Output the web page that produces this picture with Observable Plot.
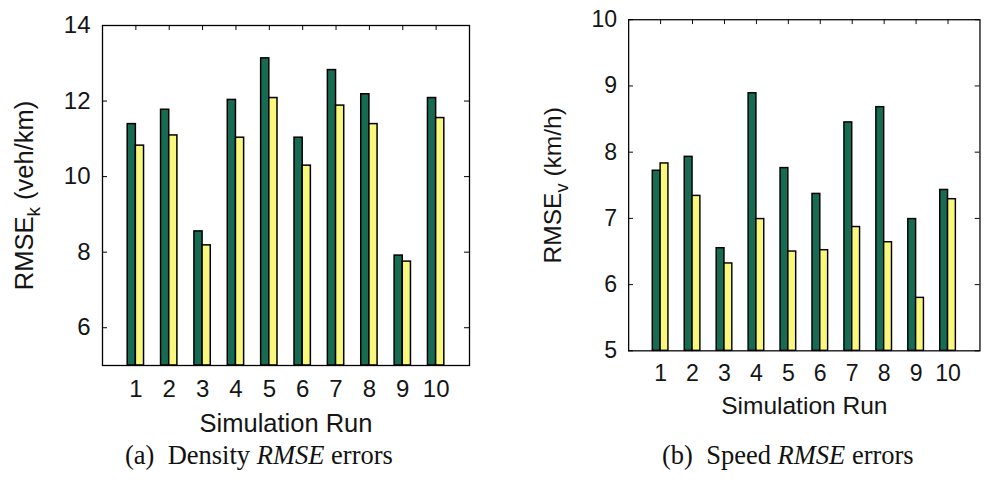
<!DOCTYPE html>
<html><head><meta charset="utf-8">
<script src="https://cdn.jsdelivr.net/npm/d3@7"></script>
<script src="https://cdn.jsdelivr.net/npm/@observablehq/plot@0.6"></script>
<style>
html,body{margin:0;padding:0;background:#fff;width:992px;height:483px;overflow:hidden;}
#wrap{position:relative;width:992px;height:483px;overflow:hidden;background:#fff;}
.panel{position:absolute;top:0;}
.cap{position:absolute;font-family:"Liberation Serif","Times New Roman",serif;font-size:26.5px;line-height:26px;color:#111;white-space:nowrap;}
</style></head><body>
<div id="wrap">
<div id="pa" class="panel" style="left:0px"></div>
<div id="pb" class="panel" style="left:530px"></div>
<div class="cap" style="left:125px;top:442px">(a)&nbsp; Density <i>RMSE</i> errors</div>
<div class="cap" style="left:662px;top:442px">(b)&nbsp; Speed <i>RMSE</i> errors</div>
</div>
<script>
// ---- data ----
const runs = [1, 2, 3, 4, 5, 6, 7, 8, 9, 10];
const densityA = [11.39, 11.77, 8.55, 12.03, 13.13, 11.03, 12.82, 12.18, 7.91, 12.08];
const densityB = [10.82, 11.09, 8.18, 11.03, 12.08, 10.29, 11.88, 11.39, 7.75, 11.55];
const speedA = [7.72, 7.93, 6.55, 8.89, 7.76, 7.37, 8.45, 8.68, 6.99, 7.43];
const speedB = [7.83, 7.34, 6.32, 6.99, 6.50, 6.52, 6.87, 6.64, 5.80, 7.29];
const densityTicks = [6, 8, 10, 12, 14];
const speedTicks = [5, 6, 7, 8, 9, 10];
const xLabel = "Simulation Run";

const GREEN = "#176b53";
const YELLOW = "#f9f77c";
const FONT = "'Liberation Sans', Arial, sans-serif";
const BW = 0.245;

function panel(el, {a, b, yDomain, yTicks, main, sub, rest, marginTop, marginBottom, marginRight}) {
  const W = 480, H = 440, ML = 102;
  const rows = runs.map((r, i) => ({run: r, a: a[i], b: b[i]}));
  const fw = W - ML - marginRight, fh = H - marginTop - marginBottom;
  const full = main + sub + rest;
  const chart = Plot.plot({
    width: W, height: H,
    marginLeft: ML, marginRight, marginTop, marginBottom,
    style: {fontFamily: FONT, color: "#151515", background: "transparent"},
    x: {domain: [0, 11]},
    y: {domain: yDomain},
    marks: [
      Plot.tickX(runs, {x: d => d, insetTop: fh - 5, stroke: "#000"}),
      Plot.rect(rows, {x1: d => d.run - BW, x2: d => d.run, y1: yDomain[0], y2: d => d.a, fill: GREEN, stroke: "#000", strokeWidth: 1.5}),
      Plot.rect(rows, {x1: d => d.run, x2: d => d.run + BW, y1: yDomain[0], y2: d => d.b, fill: YELLOW, stroke: "#000", strokeWidth: 1.5}),
      Plot.tickY(yTicks, {y: d => d, insetRight: fw - 5, stroke: "#000"}),
      Plot.tickY(yTicks, {y: d => d, insetLeft: fw - 5, stroke: "#000"}),
      Plot.tickX(runs, {x: d => d, insetBottom: fh - 5, stroke: "#000"}),
      Plot.axisY({ticks: yTicks, tickFormat: d => String(d), tickSize: 0, tickPadding: 12, fontSize: 24, label: null}),
      Plot.axisX({ticks: runs, tickFormat: d => String(d), tickSize: 0, tickPadding: 14, fontSize: 24, label: null}),
      Plot.text([xLabel], {frameAnchor: "bottom", text: d => d, dy: 48, lineAnchor: "top", fontSize: 25.5}),
      Plot.text([full], {frameAnchor: "left", text: d => d, rotate: -90, dx: -78, textAnchor: "middle", lineAnchor: "middle", fontSize: 25.5}),
      Plot.frame({stroke: "#000", strokeWidth: 1.3})
    ]
  });
  chart.querySelectorAll("text").forEach(t => {
    if (t.textContent === full) {
      t.textContent = "";
      const ns = "http://www.w3.org/2000/svg";
      const t1 = document.createElementNS(ns, "tspan"); t1.textContent = main;
      const t2 = document.createElementNS(ns, "tspan"); t2.textContent = sub;
      t2.setAttribute("dy", "7"); t2.setAttribute("font-size", "19");
      const t3 = document.createElementNS(ns, "tspan"); t3.textContent = rest;
      t3.setAttribute("dy", "-7");
      t.append(t1, t2, t3);
    }
  });
  el.appendChild(chart);
}

panel(document.getElementById("pa"), {a: densityA, b: densityB, yDomain: [5, 14], yTicks: densityTicks,
  main: "RMSE", sub: "k", rest: " (veh/km)", marginTop: 25, marginBottom: 75, marginRight: 11});
panel(document.getElementById("pb"), {a: speedA, b: speedB, yDomain: [5, 10], yTicks: speedTicks,
  main: "RMSE", sub: "v", rest: " (km/h)", marginTop: 20, marginBottom: 76, marginRight: 13});
</script>
</body></html>
